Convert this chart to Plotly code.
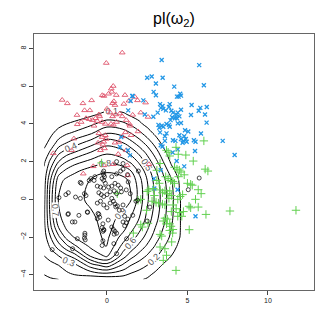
import plotly.graph_objects as go

# ---- data -------------------------------------------------------------
red_x = [0.95,-0.04,-2.78,-2.46,-1.49,-0.95,-0.29,-0.19,0.39,0.27,0.3,0.1,0.58,1.12,0.43,0.35,0.5,1.05,1.37,1.74,2.4,-1.39,-1.06,-1.86,-1.3,-1.1,-0.9,-0.7,-0.6,-0.5,-0.45,-0.3,-0.1,0.2,0.35,0.55,0.8,0.95,1.2,1.4,1.6,2.55,0.25,0.4,1.43,1.15,1.5,1.93,-0.5,-0.3,-0.2,-0.05,-0.1,-0.25,-0.15,-0.4,-0.55,0.96,0.5,0.75,1.2,0.7,-2.05,-2.19,-3.33,-1.84,-1.47,-0.85,-0.19,0.39,1.26,1.3,2.61,-1.6,-0.8,0.0,0.6,2.1,1.9]
red_y = [7.78,7.23,5.27,5.09,5.09,5.25,5.52,5.48,6.01,5.87,5.7,5.6,5.53,5.53,5.2,5.1,5.0,5.06,5.23,5.43,5.13,4.72,4.72,4.47,4.3,4.25,4.2,4.3,4.15,4.5,4.4,4.1,4.0,4.6,4.4,4.5,4.55,4.4,4.2,4.0,4.48,4.37,4.0,3.95,3.9,3.55,3.4,3.6,3.5,3.3,3.05,3.2,3.4,2.9,2.7,2.6,3.0,3.34,3.0,3.05,2.6,2.4,3.22,2.6,2.44,3.98,1.36,1.75,1.8,1.86,1.8,1.27,1.86,4.1,3.9,4.8,4.1,4.6,5.25]

blue_x = [3.4,5.73,2.5,2.78,3.46,3.04,4.18,6.02,3.04,1.6,4.35,4.45,4.6,2.26,3.3,3.45,3.35,3.5,3.9,3.85,5.26,5.8,6.2,5.7,4.6,4.4,4.3,4.5,4.35,4.0,4.1,4.05,3.95,3.66,3.15,2.88,5.22,6.09,6.19,4.22,3.2,3.4,3.5,3.25,3.85,3.7,3.9,4.4,4.6,4.85,5.05,3.7,3.6,3.3,4.5,4.6,4.75,4.8,4.9,4.95,4.7,4.1,4.25,3.6,5.4,5.5,5.84,3.34,3.45,7.19,4.4,5.47,4.08,7.93,4.8,3.34,2.92,4.39,2.94,5.5,4.33,0.81,1.43,1.32,0.89,1.3,1.57,1.47,2.9,4.55,2.35]
blue_y = [7.39,7.12,6.45,6.52,6.45,6.14,5.98,6.05,5.52,5.48,5.45,5.45,5.5,5.25,5.05,4.95,4.85,4.8,5.05,4.9,5.0,4.85,4.9,4.7,4.75,4.6,4.5,4.4,4.3,4.7,4.6,4.35,4.2,4.72,4.6,4.38,4.47,4.5,4.07,4.3,3.95,3.9,3.85,3.8,3.95,4.0,3.85,4.03,4.05,3.66,3.6,3.5,3.35,3.55,3.4,3.2,3.1,3.35,3.2,3.05,3.0,3.13,3.1,3.1,3.13,3.05,3.49,2.87,2.8,3.1,2.65,2.56,2.48,2.35,1.75,1.54,1.1,0.51,0.57,-0.9,2.03,2.78,2.33,4.72,3.3,2.6,5.48,5.22,5.7,5.6,4.5]

green_x = [4.35,4.2,4.5,4.6,6.27,6.1,3.8,3.65,3.95,4.1,4.2,5.0,5.2,5.3,5.67,4.7,4.55,4.4,3.3,3.45,3.6,3.75,3.9,4.0,3.85,3.05,3.2,3.45,3.6,4.1,4.3,4.0,4.5,4.75,4.65,4.4,5.67,5.1,5.2,6.15,7.64,11.74,3.6,3.5,3.75,3.9,3.7,2.55,2.1,3.98,4.1,3.9,5.11,4.08,3.3,3.4,1.64,2.2,4.02,3.3,3.6,3.7,3.5,4.29,6.02,4.9,5.36,4.43,3.8,3.9,3.7,4.29,1.93,2.1,2.5,2.6,2.88,2.8,2.46,3.1,3.3,-0.33,0.64,3.1,3.25,2.95,4.45,4.8,5.5,5.85]
green_y = [1.6,1.7,1.55,1.45,1.5,1.6,1.1,1.2,1.0,0.95,0.85,0.85,0.8,0.75,0.51,0.25,0.15,0.0,0.5,0.35,0.45,0.3,0.45,0.2,0.05,-0.16,-0.2,-0.25,-0.3,-0.3,-0.5,-0.65,-0.7,-0.65,-0.9,-0.9,-0.41,-0.37,-0.45,-0.8,-0.62,-0.58,-1.0,-1.15,-1.05,-1.3,-1.3,-1.27,-1.35,-1.43,-1.6,-1.65,-1.61,-1.79,-1.86,-1.95,-1.79,-1.47,-2.26,-2.53,-2.62,-2.97,-3.24,-3.77,3.1,2.35,2.03,2.39,2.5,2.3,2.6,2.76,-0.05,0.0,0.42,0.5,0.57,-0.1,-0.58,1.54,1.9,1.93,0.3,1.0,0.85,0.2,1.2,1.3,0.0,0.3]

black_x = [-0.2,-0.25,-0.2,-0.15,-0.3,-0.2,-0.1,-0.6,-0.4,-0.2,0.1,0.3,0.5,0.7,0.85,-1.4,-1.3,-1.65,-2.4,-2.55,-2.98,-1.95,-0.5,-0.35,-0.2,0.0,0.2,0.45,0.6,0.9,1.2,1.45,-0.6,-0.2,0.0,0.2,0.4,0.5,0.65,0.55,1.0,-1.22,-1.74,-2.42,-0.6,-0.25,-0.3,-0.2,-0.25,0.4,0.5,0.6,0.45,1.0,1.2,1.3,1.1,-2.15,-1.84,-1.37,-1.4,-1.35,-2.13,-3.4,-0.25,-0.3,0.43,0.6,1.22,0.3,0.6,0.85,1.0,1.0,0.6,-0.75,-0.8,-1.1,-1.66,-1.6,-1.0,1.95,1.8,1.9,2.67,1.6,2.5,5.05,5.73,1.32,1.28,0.77,1.1,0.08,0.3,-0.5,-0.45,-0.55,-1.2,-2.4,-1.99,-1.37,-0.19,-0.4,0.3]
black_y = [1.5,1.4,1.3,1.2,1.1,1.0,0.85,0.7,0.65,0.6,0.65,0.7,0.85,0.75,0.6,0.3,0.2,0.05,0.35,0.25,0.09,0.12,0.35,0.25,0.15,0.25,0.4,0.45,0.3,0.4,0.5,0.3,-0.2,-0.3,-0.45,-0.2,-0.1,-0.25,-0.35,-0.4,-0.3,-0.67,-0.85,-0.8,-1.03,-1.3,-1.5,-1.6,-1.7,-1.6,-1.7,-1.8,-1.85,-1.2,-1.25,-1.05,-1.4,-1.2,-2.09,-1.9,-2.05,-2.15,-2.62,-2.67,-2.2,-2.45,-2.35,-2.88,-2.09,1.2,1.35,1.5,1.6,1.9,2.0,1.2,1.0,1.0,0.9,0.85,1.1,1.5,-0.1,-0.05,-0.41,-0.85,-1.15,0.51,1.13,0.92,1.31,-0.58,-0.9,-1.1,-1.47,-0.8,-0.95,-0.75,-0.69,-0.76,-1.2,-1.8,-1.64,-0.1,0.05]

# contour surface pl(omega2)
grid_x = [-3.9, -3.5, -3.0, -2.5, -2.0, -1.0, 0.0, 1.0, 1.5, 2.0, 2.5, 3.0, 3.5, 4.0, 4.5, 5.0, 5.5]
grid_y = [-4.25, -4.0, -3.5, -3.0, -2.5, -2.0, -1.5, -1.0, 0.0, 1.0, 1.5, 2.0, 2.5, 3.0, 3.5, 4.0, 4.5, 5.0, 5.5]
grid_z = [
    [0.08, 0.09, 0.10, 0.14, 0.16, 0.14, 0.13, 0.14, 0.13, 0.11, 0.09, 0.06, 0.03, 0.01, 0.00, 0.00, 0.00],
    [0.10, 0.12, 0.14, 0.18, 0.20, 0.22, 0.25, 0.22, 0.18, 0.15, 0.12, 0.08, 0.04, 0.02, 0.00, 0.00, 0.00],
    [0.15, 0.17, 0.20, 0.24, 0.27, 0.45, 0.55, 0.38, 0.30, 0.25, 0.20, 0.14, 0.09, 0.05, 0.02, 0.00, 0.00],
    [0.20, 0.24, 0.30, 0.38, 0.45, 0.72, 0.82, 0.55, 0.44, 0.36, 0.29, 0.22, 0.15, 0.10, 0.05, 0.01, 0.00],
    [0.22, 0.32, 0.45, 0.57, 0.68, 0.82, 0.905, 0.66, 0.56, 0.47, 0.38, 0.29, 0.21, 0.14, 0.08, 0.02, 0.00],
    [0.25, 0.40, 0.58, 0.74, 0.81, 0.86, 0.92, 0.76, 0.66, 0.56, 0.46, 0.35, 0.26, 0.18, 0.105, 0.03, 0.00],
    [0.27, 0.48, 0.70, 0.82, 0.85, 0.87, 0.93, 0.84, 0.74, 0.64, 0.52, 0.40, 0.30, 0.20, 0.11, 0.03, 0.00],
    [0.28, 0.52, 0.78, 0.84, 0.86, 0.88, 0.94, 0.87, 0.79, 0.70, 0.57, 0.44, 0.33, 0.22, 0.11, 0.03, 0.00],
    [0.27, 0.55, 0.81, 0.85, 0.87, 0.92, 0.97, 0.95, 0.905, 0.76, 0.62, 0.48, 0.35, 0.23, 0.11, 0.03, 0.00],
    [0.25, 0.50, 0.76, 0.83, 0.86, 0.905, 0.95, 0.93, 0.88, 0.74, 0.60, 0.46, 0.33, 0.21, 0.09, 0.02, 0.00],
    [0.22, 0.42, 0.65, 0.73, 0.78, 0.85, 0.89, 0.86, 0.80, 0.68, 0.55, 0.42, 0.28, 0.14, 0.05, 0.01, 0.00],
    [0.18, 0.33, 0.50, 0.60, 0.66, 0.73, 0.78, 0.74, 0.68, 0.58, 0.46, 0.34, 0.20, 0.08, 0.02, 0.00, 0.00],
    [0.12, 0.22, 0.37, 0.45, 0.50, 0.60, 0.68, 0.63, 0.56, 0.47, 0.37, 0.25, 0.13, 0.04, 0.00, 0.00, 0.00],
    [0.07, 0.13, 0.24, 0.30, 0.35, 0.45, 0.56, 0.50, 0.43, 0.35, 0.26, 0.16, 0.07, 0.01, 0.00, 0.00, 0.00],
    [0.03, 0.08, 0.14, 0.19, 0.22, 0.29, 0.40, 0.36, 0.30, 0.23, 0.15, 0.08, 0.02, 0.00, 0.00, 0.00, 0.00],
    [0.01, 0.04, 0.07, 0.10, 0.12, 0.18, 0.25, 0.22, 0.18, 0.12, 0.07, 0.02, 0.00, 0.00, 0.00, 0.00, 0.00],
    [0.00, 0.01, 0.02, 0.04, 0.05, 0.08, 0.13, 0.12, 0.08, 0.06, 0.01, 0.00, 0.00, 0.00, 0.00, 0.00, 0.00],
    [0.00, 0.00, 0.00, 0.00, 0.01, 0.02, 0.04, 0.03, 0.01, 0.00, 0.00, 0.00, 0.00, 0.00, 0.00, 0.00, 0.00],
    [0.00, 0.00, 0.00, 0.00, 0.00, 0.00, 0.00, 0.00, 0.00, 0.00, 0.00, 0.00, 0.00, 0.00, 0.00, 0.00, 0.00],
]

x_ticks = [0, 5, 10]
y_ticks = [-4, -2, 0, 2, 4, 6, 8]
title_text = "pl(ω<sub>2</sub>)"

# ---- figure -----------------------------------------------------------
fig = go.Figure()

fig.add_trace(go.Scatter(x=red_x, y=red_y, mode="markers",
                         marker=dict(symbol="triangle-up-open", size=5, color="#DF536B",
                                     line=dict(width=0.9)), showlegend=False))
fig.add_trace(go.Scatter(x=blue_x, y=blue_y, mode="markers",
                         marker=dict(symbol="x-thin-open", size=4, color="#2297E6",
                                     line=dict(width=1.3, color="#2297E6")), showlegend=False))
fig.add_trace(go.Scatter(x=green_x, y=green_y, mode="markers",
                         marker=dict(symbol="cross-thin-open", size=6, color="#61D04F",
                                     line=dict(width=1.0, color="#61D04F")), showlegend=False))
fig.add_trace(go.Scatter(x=black_x, y=black_y, mode="markers",
                         marker=dict(symbol="circle-open", size=4, color="black",
                                     line=dict(width=0.7)), showlegend=False))

fig.add_trace(go.Contour(x=grid_x, y=grid_y, z=grid_z, showscale=False, showlegend=False,
                         contours=dict(start=0.1, end=0.9, size=0.1, coloring="none",
                                       showlabels=True,
                                       labelfont=dict(size=9, color="#555",
                                                      family="Liberation Sans, Arial")),
                         line=dict(color="black", width=1), hoverinfo="skip"))

# the page body adds an 8px offset, so the figure is drawn 8px smaller
fig.update_layout(
    width=324, height=324,
    margin=dict(l=26, r=18, t=26, b=42),
    paper_bgcolor="white", plot_bgcolor="white",
    showlegend=False,
    font=dict(family="Liberation Sans, Arial, sans-serif", color="black"),
    title=dict(text=title_text, x=0.5, xref="paper", y=0.969, yref="container",
               xanchor="center", yanchor="middle",
               font=dict(size=16, color="black", family="Liberation Sans, Arial")),
)
fig.update_xaxes(range=[-4.53, 12.86], tickvals=x_ticks, ticks="outside", ticklen=4,
                 tickcolor="#444", tickfont=dict(size=7, color="#222"),
                 showgrid=False, zeroline=False, showline=True, linecolor="#666",
                 linewidth=1, mirror=True)
fig.update_yaxes(range=[-4.81, 8.77], tickvals=y_ticks, ticks="outside", ticklen=4,
                 tickcolor="#444", tickfont=dict(size=7, color="#222"), tickangle=-90,
                 showgrid=False, zeroline=False, showline=True, linecolor="#666",
                 linewidth=1, mirror=True)

fig.write_html("out.html")
